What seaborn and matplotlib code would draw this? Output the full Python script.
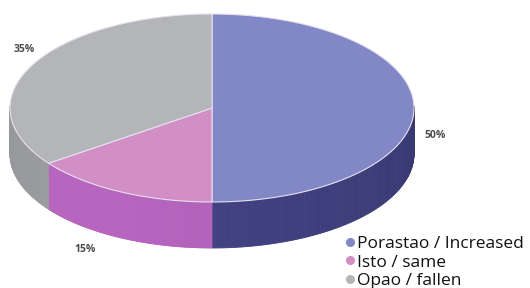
import numpy as np
import matplotlib
matplotlib.use("Agg")
import matplotlib.pyplot as plt
import seaborn as sns
from matplotlib.patches import Polygon
from matplotlib.lines import Line2D

# Datos del gráfico
categorias = ["Porastao / Increased", "Isto / same", "Opao / fallen"]
porcentajes = [50, 15, 35]
etiquetas = ["50%", "15%", "35%"]

colores_arriba = ["#8287c6", "#d28fc6", "#b3b5b8"]
colores_lado = ["#3d3d7a", "#a75cae", "#8c8d90"]

sns.set_theme(style="white")
plt.rcParams['font.family'] = ['Open Sans', 'DejaVu Sans']

fig = plt.figure(figsize=(5.30, 2.88), dpi=100)
ax = fig.add_axes([0, 0, 1, 1])
ax.set_xlim(0, 530)
ax.set_ylim(288, 0)
ax.axis("off")

# geometría del pastel 3D (en píxeles)
cx, cy = 212, 108
a, b = 202, 94
prof = 46


def punto(t, dz=0):
    return cx + a * np.cos(t), cy - b * np.sin(t) + dz


# ángulos: empieza arriba (90°) y gira en sentido horario
fracs = np.array(porcentajes) / sum(porcentajes)
bordes = np.pi / 2 - 2 * np.pi * np.concatenate([[0], np.cumsum(fracs)])

# caras laterales (solo la mitad frontal), con sombreado en franjas
for i in range(len(porcentajes)):
    t0, t1 = bordes[i], bordes[i + 1]
    ts = np.linspace(t0, t1, 200)
    base = np.array(matplotlib.colors.to_rgb(colores_lado[i]))
    for k in range(len(ts) - 1):
        tm = 0.5 * (ts[k] + ts[k + 1])
        if np.sin(tm) > 0.02:
            continue
        # más claro hacia la izquierda-centro, más oscuro a la derecha
        luz = 1.0 + 0.10 * np.cos(tm + np.pi * 0.75)
        col = np.clip(base * luz, 0, 1)
        x0, y0 = punto(ts[k])
        x1, y1 = punto(ts[k + 1])
        poly = Polygon([(x0, y0), (x1, y1), (x1, y1 + prof), (x0, y0 + prof)],
                       closed=True, facecolor=col, edgecolor=col, lw=0.6)
        ax.add_patch(poly)

# caras superiores
for i in range(len(porcentajes)):
    ts = np.linspace(bordes[i], bordes[i + 1], 200)
    xs, ys = punto(ts)
    verts = [(cx, cy)] + list(zip(xs, ys))
    ax.add_patch(Polygon(verts, closed=True, facecolor=colores_arriba[i],
                         edgecolor="#e6e0ee", lw=0.8))

# etiquetas de porcentaje
pos_etiquetas = [(435, 135), (85, 250), (24, 50)]
for (x, y), txt in zip(pos_etiquetas, etiquetas):
    ax.text(x, y, txt, fontsize=7.5, fontweight="bold", color="#4a4a4a",
            ha="center", va="center")

# leyenda
manijas = [Line2D([0], [0], marker="o", linestyle="", markersize=5.5,
                  markerfacecolor=c, markeredgecolor=c) for c in colores_arriba]
fig.legend(manijas, categorias, loc="lower right", bbox_to_anchor=(1.012, -0.045),
           frameon=False, fontsize=12.5, handlelength=0.45, handletextpad=0.2,
           labelspacing=0.12, borderpad=0.2, labelcolor="#111111")

plt.savefig("out.png", dpi=100)
plt.close()
